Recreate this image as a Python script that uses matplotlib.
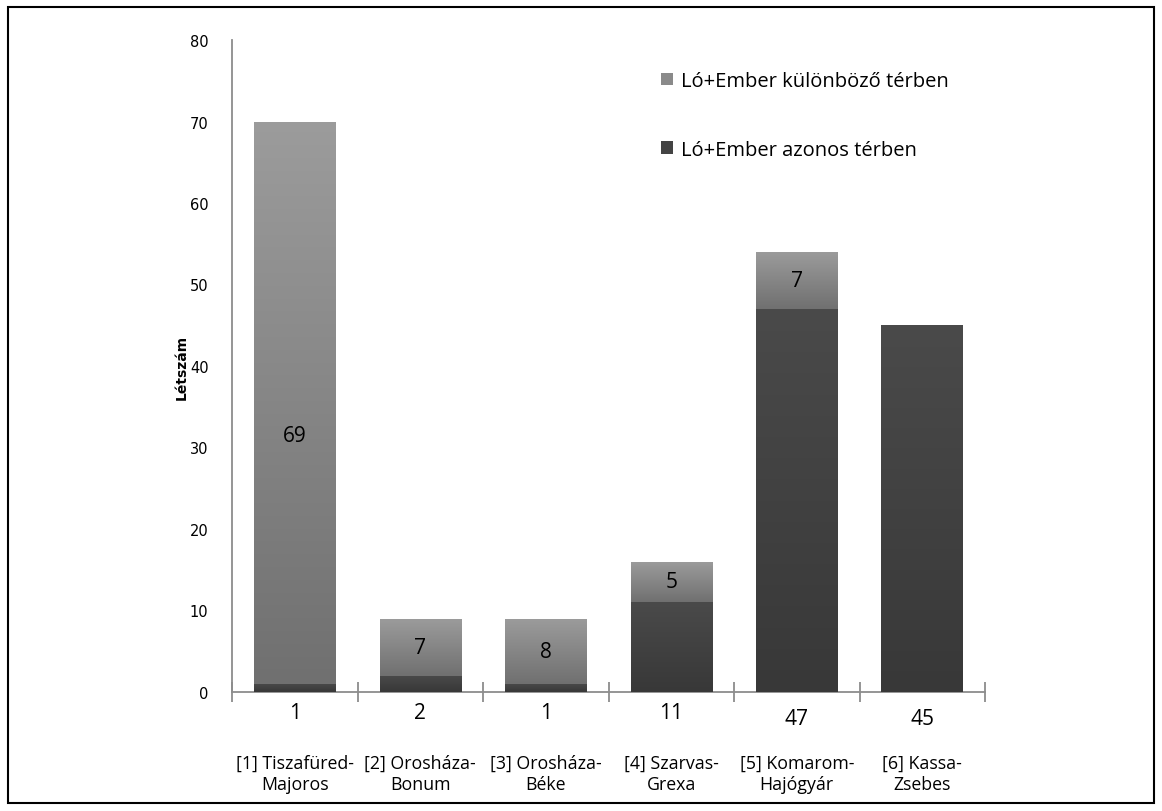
import numpy as np
import matplotlib
matplotlib.use("Agg")
import matplotlib.pyplot as plt
from matplotlib.patches import Rectangle

# data
sites = ["[1] Tiszafüred-\nMajoros", "[2] Orosháza-\nBonum", "[3] Orosháza-\nBéke",
         "[4] Szarvas-\nGrexa", "[5] Komarom-\nHajógyár", "[6] Kassa-\nZsebes"]
azonos = [1, 2, 1, 11, 47, 45]
kulonbozo = [69, 7, 8, 5, 7, 0]
label_azonos = "Ló+Ember azonos térben"
label_kulonbozo = "Ló+Ember különböző térben"

FONT = ["Open Sans", "DejaVu Sans"]


def grad_fill(ax, bar, top_col, bot_col):
    # vertical gradient clipped to the bar rectangle
    x0, y0 = bar.get_x(), bar.get_y()
    w, h = bar.get_width(), bar.get_height()
    if h <= 0:
        return
    t = np.linspace(0, 1, 64)[:, None]
    top = np.array(top_col)
    bot = np.array(bot_col)
    img = (top * (1 - t) + bot * t)[:, None, :]
    im = ax.imshow(img, extent=(x0, x0 + w, y0, y0 + h), origin="upper",
                   aspect="auto", zorder=3, interpolation="bilinear")
    im.set_clip_path(bar)


fig = plt.figure(figsize=(11.62, 8.12), dpi=100)
ax = fig.add_axes([0.1997, 0.1466, 0.648, 0.8029])

x = np.arange(len(sites))
w = 0.65
b1 = ax.bar(x, azonos, w, color="#444444", zorder=2, label=label_azonos)
b2 = ax.bar(x, kulonbozo, w, bottom=azonos, color="#8a8a8a", zorder=2,
            label=label_kulonbozo)

for bar in b1:
    grad_fill(ax, bar, (0.29, 0.29, 0.29), (0.22, 0.22, 0.22))
for bar in b2:
    grad_fill(ax, bar, (0.61, 0.61, 0.61), (0.44, 0.44, 0.44))

ax.set_xlim(-0.5, len(sites) - 0.5)
ax.set_ylim(0, 80)

# value labels inside upper segment
for i in range(len(sites)):
    if kulonbozo[i] > 0:
        yy = azonos[i] + kulonbozo[i] / 2
        if kulonbozo[i] > 30:
            yy -= 4
        ax.text(x[i], yy, str(kulonbozo[i]), ha="center", va="center",
                fontsize=15, family=FONT, zorder=5)

# bottom values under the axis
for i in range(len(sites)):
    off = 2.5 if azonos[i] < 20 else 3.3
    ax.text(x[i], -off, str(azonos[i]), ha="center", va="center",
            fontsize=15, family=FONT, clip_on=False)
    ax.text(x[i], -10.0, sites[i], ha="center", va="center",
            fontsize=12.8, family=FONT, linespacing=1.25, clip_on=False)

for s in ["top", "right"]:
    ax.spines[s].set_visible(False)
for s in ["left", "bottom"]:
    ax.spines[s].set_color("#8c8c8c")
    ax.spines[s].set_linewidth(1.3)

ax.set_yticks(range(0, 81, 10))
ax.tick_params(axis="y", length=0, pad=17, labelsize=10.5)
ax.set_xticks(np.arange(-0.5, len(sites), 1.0))
ax.set_xticklabels([])
ax.tick_params(axis="x", direction="inout", length=14, color="#8c8c8c", width=1.3)
ax.set_ylabel("Létszám", fontsize=10, fontweight="bold", labelpad=1)

handles, labels = ax.get_legend_handles_labels()
leg = ax.legend(handles[::-1], labels[::-1], loc="upper left",
                bbox_to_anchor=(0.545, 0.98), frameon=False,
                prop={"family": FONT, "size": 14.5}, handlelength=0.6,
                handleheight=0.6, handletextpad=0.4, labelspacing=2.4)
leg.legend_handles[0].set_facecolor("#8a8a8a")
leg.legend_handles[1].set_facecolor("#444444")

# outer frame
fig.patches.append(Rectangle((8 / 1162, 8 / 812), 1 - 16 / 1162, 1 - 16 / 812,
                             transform=fig.transFigure, fill=False,
                             edgecolor="black", linewidth=1.5))

fig.savefig("out.png", dpi=100)
